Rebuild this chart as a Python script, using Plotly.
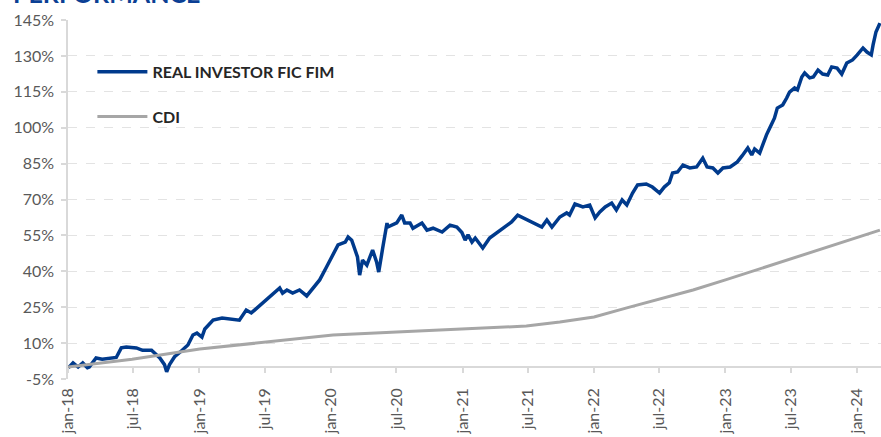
import plotly.graph_objects as go

# ---- data ----
fund_dates = [
    "2018-01-01", "2018-01-04", "2018-01-15", "2018-01-29", "2018-02-11", "2018-02-24", "2018-03-01",
    "2018-03-20", "2018-04-06", "2018-05-04", "2018-05-15", "2018-05-29", "2018-06-12", "2018-07-10",
    "2018-07-27", "2018-08-21", "2018-09-04", "2018-09-13", "2018-09-26", "2018-10-02", "2018-10-10",
    "2018-10-24", "2018-11-08", "2018-11-30", "2018-12-14", "2018-12-25", "2019-01-08", "2019-01-16",
    "2019-02-08", "2019-03-05", "2019-04-22", "2019-05-11", "2019-05-25", "2019-06-17", "2019-07-14",
    "2019-08-06", "2019-08-12", "2019-08-20", "2019-09-01", "2019-09-17", "2019-10-06", "2019-10-26",
    "2019-11-12", "2019-12-01", "2019-12-20", "2020-01-07", "2020-01-21", "2020-02-10", "2020-02-18",
    "2020-02-28", "2020-03-07", "2020-03-15", "2020-03-21", "2020-03-29", "2020-04-10", "2020-04-18",
    "2020-04-26", "2020-05-07", "2020-05-13", "2020-05-24", "2020-06-05", "2020-06-07", "2020-06-18",
    "2020-07-02", "2020-07-16", "2020-07-24", "2020-08-08", "2020-08-16", "2020-09-10", "2020-09-24",
    "2020-10-11", "2020-11-05", "2020-11-27", "2020-12-16", "2020-12-30", "2021-01-08", "2021-01-16",
    "2021-01-27", "2021-02-05", "2021-02-26", "2021-03-17", "2021-04-06", "2021-04-23", "2021-05-17",
    "2021-06-03", "2021-06-27", "2021-07-19", "2021-08-09", "2021-08-23", "2021-09-06", "2021-09-28",
    "2021-10-17", "2021-10-25", "2021-11-09", "2021-12-01", "2021-12-20", "2022-01-04", "2022-01-17",
    "2022-02-01", "2022-02-19", "2022-03-04", "2022-03-20", "2022-04-02", "2022-04-18", "2022-05-02",
    "2022-05-26", "2022-06-12", "2022-07-02", "2022-07-15", "2022-07-29", "2022-08-07", "2022-08-21",
    "2022-09-05", "2022-09-24", "2022-10-13", "2022-10-30", "2022-11-11", "2022-11-27", "2022-12-11",
    "2022-12-25", "2023-01-14", "2023-02-03", "2023-02-16", "2023-03-04", "2023-03-15", "2023-03-23",
    "2023-04-06", "2023-04-14", "2023-04-25", "2023-05-04", "2023-05-17", "2023-05-25", "2023-06-09",
    "2023-06-20", "2023-06-28", "2023-07-12", "2023-07-20", "2023-08-01", "2023-08-09", "2023-08-23",
    "2023-09-02", "2023-09-15", "2023-09-28", "2023-10-12", "2023-10-23", "2023-11-07", "2023-11-20",
    "2023-12-04", "2023-12-20", "2024-01-02", "2024-01-10", "2024-01-18", "2024-01-29", "2024-02-10",
    "2024-02-15", "2024-02-23", "2024-03-05",
]
fund_values = [
    0.0, 0.0, 1.7, 0.0, 1.7, -0.3, 0.0,
    3.8, 3.3, 3.8, 4.0, 8.0, 8.4, 8.0,
    7.0, 7.0, 5.0, 3.8, 1.0, -2.0, 1.0,
    4.3, 6.2, 9.2, 13.4, 14.2, 12.5, 15.9,
    19.6, 20.5, 19.6, 23.8, 22.6, 25.5, 29.3,
    32.2, 33.0, 30.9, 32.2, 30.9, 32.2, 29.7,
    33.0, 36.4, 41.8, 46.8, 51.0, 52.2, 54.3,
    53.0, 49.7, 46.0, 38.4, 44.7, 42.6, 46.0,
    48.9, 43.9, 39.7, 49.7, 60.2, 58.5, 59.3,
    60.2, 63.5, 60.2, 60.2, 58.0, 60.2, 57.2,
    58.0, 56.4, 59.3, 58.5, 56.2, 53.0, 55.2,
    52.2, 53.9, 49.7, 53.9, 56.0, 58.0, 60.6,
    63.5, 61.8, 60.2, 58.5, 61.4, 58.5, 62.7,
    64.4, 63.5, 68.1, 66.9, 67.7, 62.3, 64.8,
    66.9, 68.5, 65.6, 69.8, 67.7, 72.7, 76.1,
    76.5, 75.2, 72.7, 75.2, 77.0, 81.1, 81.5,
    84.4, 83.2, 83.6, 87.3, 83.6, 83.2, 81.1,
    83.2, 83.6, 85.7, 88.2, 91.5, 88.6, 91.1,
    89.4, 92.8, 97.0, 99.9, 104.0, 108.2, 109.5,
    112.4, 114.9, 116.6, 115.8, 121.2, 122.9, 120.8,
    121.2, 124.1, 122.4, 122.0, 125.4, 124.9, 122.4,
    127.0, 128.3, 130.4, 131.6, 133.3, 131.6, 130.4,
    134.6, 140.0, 143.7,
]

cdi_dates = [
    "2018-01-01", "2018-06-28", "2019-01-02", "2019-07-05", "2020-01-07", "2020-07-02",
    "2020-12-25", "2021-06-27", "2021-09-28", "2022-01-01", "2022-04-02", "2022-07-01",
    "2022-10-03", "2023-01-01", "2023-04-06", "2023-06-28", "2023-10-09", "2024-01-10",
    "2024-03-05",
]
cdi_values = [
    0.0, 3.3, 7.5, 10.4, 13.4, 14.6,
    15.9, 17.1, 18.8, 20.9, 24.7, 28.4,
    32.2, 36.4, 41.0, 45.1, 50.1, 54.3,
    57.2,
]

tick_dates = [
    "2018-01-01", "2018-07-01", "2019-01-01", "2019-07-01", "2020-01-01", "2020-07-01",
    "2021-01-01", "2021-07-01", "2022-01-01", "2022-07-01", "2023-01-01", "2023-07-01",
    "2024-01-01",
]
tick_labels = [
    "jan-18", "jul-18", "jan-19", "jul-19", "jan-20", "jul-20",
    "jan-21", "jul-21", "jan-22", "jul-22", "jan-23", "jul-23",
    "jan-24",
]
y_ticks = [-5, 10, 25, 40, 55, 70, 85, 100, 115, 130, 145]
y_tick_labels = [f"{v}%" for v in y_ticks]

series_names = ["REAL INVESTOR FIC FIM", "CDI"]
title_text = "PERFORMANCE"

# ---- figure ----
FONT = "Lato, 'DejaVu Sans', sans-serif"
BLUE = "#003a8c"
GREY_LINE = "#a6a6a6"
AXIS_GREY = "#d9d9d9"
X_RANGE = ["2018-01-01", "2024-03-08"]

fig = go.Figure()
fig.add_trace(go.Scatter(
    x=fund_dates, y=fund_values, mode="lines", name=series_names[0],
    legendgroup="g1",
    line=dict(color=BLUE, width=3.5), xaxis="x", yaxis="y",
))
fig.add_trace(go.Scatter(
    x=cdi_dates, y=cdi_values, mode="lines", name=series_names[1],
    legendgroup="g2",
    line=dict(color=GREY_LINE, width=3), xaxis="x2", yaxis="y",
))

fig.update_layout(
    width=881, height=437,
    margin=dict(l=68, r=0, t=20, b=58, autoexpand=False),
    paper_bgcolor="white", plot_bgcolor="white",
    font=dict(family=FONT, size=16, color="#595959"),
    showlegend=True,
    legend=dict(
        x=0.03, y=0.903, xanchor="left", yanchor="top",
        bgcolor="rgba(0,0,0,0)",
        font=dict(family=FONT, size=16, color="#262626", weight="bold"),
        traceorder="grouped", tracegroupgap=21, itemwidth=50,
    ),
    xaxis=dict(
        type="date", range=X_RANGE, automargin=False,
        tickvals=tick_dates, ticktext=tick_labels, tickangle=-90,
        showgrid=False, showline=False, zeroline=False, ticks="",
        tickfont=dict(family=FONT, size=16, color="#595959"),
        ticklabelstandoff=5,
    ),
    xaxis2=dict(
        type="date", range=X_RANGE, overlaying="x", matches="x", automargin=False,
        anchor="free", position=5 / 150, side="bottom",
        tickvals=tick_dates, showticklabels=False,
        ticks="outside", ticklen=5, tickwidth=1.5, tickcolor=AXIS_GREY,
        showgrid=False, showline=False, zeroline=False,
    ),
    yaxis=dict(
        range=[-5, 145], tickvals=y_ticks, ticktext=y_tick_labels, automargin=False,
        showgrid=True, gridcolor="#e3e3e3", griddash="dash", gridwidth=1,
        showline=True, linecolor=AXIS_GREY, linewidth=1.5,
        ticks="outside", ticklen=5, tickcolor=AXIS_GREY, tickwidth=1.5,
        zeroline=True, zerolinecolor=AXIS_GREY, zerolinewidth=2,
        tickfont=dict(family=FONT, size=16, color="#595959"),
        ticklabelstandoff=4,
    ),
    annotations=[dict(
        text=title_text, xref="paper", yref="paper", x=0, y=1,
        xanchor="left", yanchor="bottom", xshift=-57, yshift=10,
        showarrow=False,
        font=dict(family=FONT, size=25, color="#0b3f94", weight="bold"),
    )],
)

fig.write_html(
    "out.html",
    config={"displayModeBar": False},
    post_script="document.body.style.margin='0';document.body.style.overflow='hidden';",
)
